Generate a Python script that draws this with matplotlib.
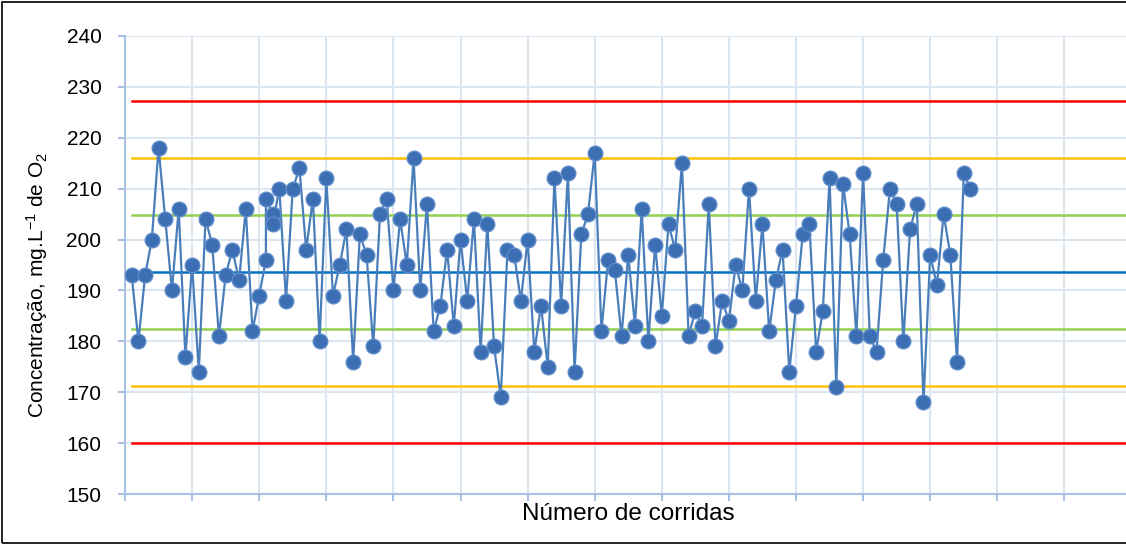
import matplotlib
matplotlib.use("Agg")
import matplotlib.pyplot as plt
from matplotlib.patches import Rectangle

plt.rcParams['font.family'] = ['Liberation Sans', 'DejaVu Sans']
plt.rcParams['mathtext.fontset'] = 'custom'
plt.rcParams['mathtext.rm'] = 'Liberation Sans'
plt.rcParams['mathtext.it'] = 'Liberation Sans'

# Número de corrida (hay dos lecturas en las corridas 21 y 22)
corridas = list(range(1, 21)) + [21, 21, 22, 22] + list(range(23, 127))
concentracion = [
    193, 180, 193, 200, 218, 204, 190, 206, 177, 195,
    174, 204, 199, 181, 193, 198, 192, 206, 182, 189,
    196, 208, 205, 203,
    210, 188, 210, 214, 198, 208, 180, 212, 189, 195,
    202, 176, 201, 197, 179, 205, 208, 190, 204, 195,
    216, 190, 207, 182, 187, 198, 183, 200, 188, 204,
    178, 203, 179, 169, 198, 197, 188, 200, 178, 187,
    175, 212, 187, 213, 174, 201, 205, 217, 182, 196,
    194, 181, 197, 183, 206, 180, 199, 185, 203, 198,
    215, 181, 186, 183, 207, 179, 188, 184, 195, 190,
    210, 188, 203, 182, 192, 198, 174, 187, 201, 203,
    178, 186, 212, 171, 211, 201, 181, 213, 181, 178,
    196, 210, 207, 180, 202, 207, 168, 197, 191, 205,
    197, 176, 213, 210,
]

# Límites de control
media = 193.7
limites_1s = [182.5, 204.9]
limites_2s = [171.3, 216.1]
limites_3s = [160.0, 227.3]

fig = plt.figure(figsize=(11.26, 5.45), dpi=100)
ax = fig.add_axes([125 / 1126, 51 / 545, 1006.5 / 1126, 458 / 545])

x_lim = [1, 150]
for y in limites_3s:
    ax.plot(x_lim, [y, y], color='#FF0000', lw=1.8, zorder=2)
for y in limites_2s:
    ax.plot(x_lim, [y, y], color='#FFC000', lw=1.8, zorder=2)
for y in limites_1s:
    ax.plot(x_lim, [y, y], color='#92D050', lw=1.8, zorder=2)
ax.plot(x_lim, [media, media], color='#0070C0', lw=1.8, zorder=2)

ax.plot(corridas, concentracion, color='#4A7EBB', lw=1.6, marker='o',
        markersize=10.5, markerfacecolor='#3C6EB4', markeredgecolor='#5D8AC8',
        markeredgewidth=1.0, zorder=3)

ax.set_xlim(0, 150)
ax.set_ylim(150, 240)
ax.set_xticks(range(0, 151, 10))
ax.set_xticklabels([])
ax.set_yticks(range(150, 241, 10))
ax.grid(True, color='#DCE6F2', lw=1.5, zorder=0)
ax.set_axisbelow(True)

for s in ['top', 'right']:
    ax.spines[s].set_visible(False)
for s in ['left', 'bottom']:
    ax.spines[s].set_color('#A7C0E3')
    ax.spines[s].set_linewidth(1.5)
ax.tick_params(axis='both', color='#A7C0E3', width=1.5, length=5,
               labelsize=15, labelcolor='black')
ax.tick_params(axis='y', pad=12)

fig.text(37 / 1126, (545 - 285) / 545, 'Concentração, mg.L$^{-1}$ de O$_2$',
         rotation=90, ha='center', va='center', fontsize=15)
fig.text(628 / 1126, (545 - 514) / 545, 'Número de corridas',
         ha='center', va='center', fontsize=17.5)

fig.patches.append(Rectangle((2 / 1126, 2 / 545), 1.2, 541 / 545, transform=fig.transFigure,
                             fill=False, edgecolor='black', lw=1.2))

fig.savefig('out.png', dpi=100)
